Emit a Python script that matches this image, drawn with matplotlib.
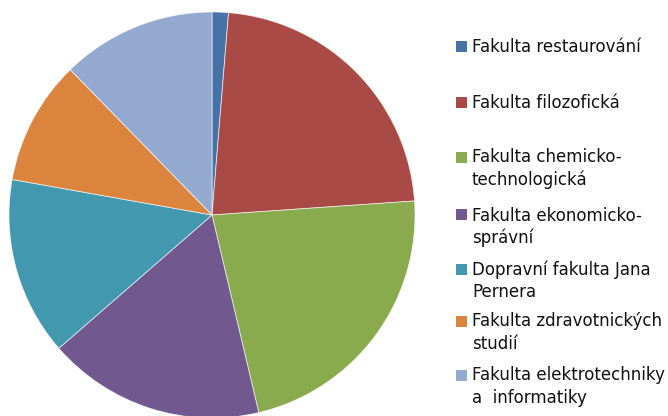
import matplotlib.pyplot as plt
from matplotlib.patches import Rectangle

plt.rcParams['font.family'] = ['DejaVu Sans']

# podíl jednotlivých fakult (%)
faculties = [
    "Fakulta restaurování",
    "Fakulta filozofická",
    "Fakulta chemicko-\ntechnologická",
    "Fakulta ekonomicko-\nsprávní",
    "Dopravní fakulta Jana\nPernera",
    "Fakulta zdravotnických\nstudií",
    "Fakulta elektrotechniky\na  informatiky",
]
shares = [1.3, 22.6, 22.4, 17.3, 14.2, 9.9, 12.3]
colors = ["#4672A8", "#A94A47", "#8AAA4E", "#71588F", "#4198AF", "#DB843D", "#93A9CF"]

W, H = 668, 416
fig = plt.figure(figsize=(W / 100, H / 100), dpi=100)

cx, cy, r = 212, 215, 203
ax = fig.add_axes([(cx - r) / W, (H - cy - r) / H, 2 * r / W, 2 * r / H])
ax.pie(shares, colors=colors, startangle=90, counterclock=False, radius=1,
       wedgeprops=dict(edgecolor=(1, 1, 1, 0.7), linewidth=0.6))
ax.set_xlim(-1, 1)
ax.set_ylim(-1, 1)
ax.set_aspect('equal')
ax.axis('off')

# legenda – ručně, aby seděly pozice
legend_y = [46.5, 102, 157, 215, 269, 321, 375]
for lab, col, y in zip(faculties, colors, legend_y):
    fig.patches.append(Rectangle((456 / W, 1 - (y + 5.5) / H), 11 / W, 11 / H,
                                 transform=fig.transFigure, facecolor=col,
                                 edgecolor='none'))
    fig.text(472 / W, 1 - (y - 8.5) / H, lab, fontsize=12, va='top', ha='left',
             color='#111111', linespacing=1.3)

fig.savefig("out.png", dpi=100)
